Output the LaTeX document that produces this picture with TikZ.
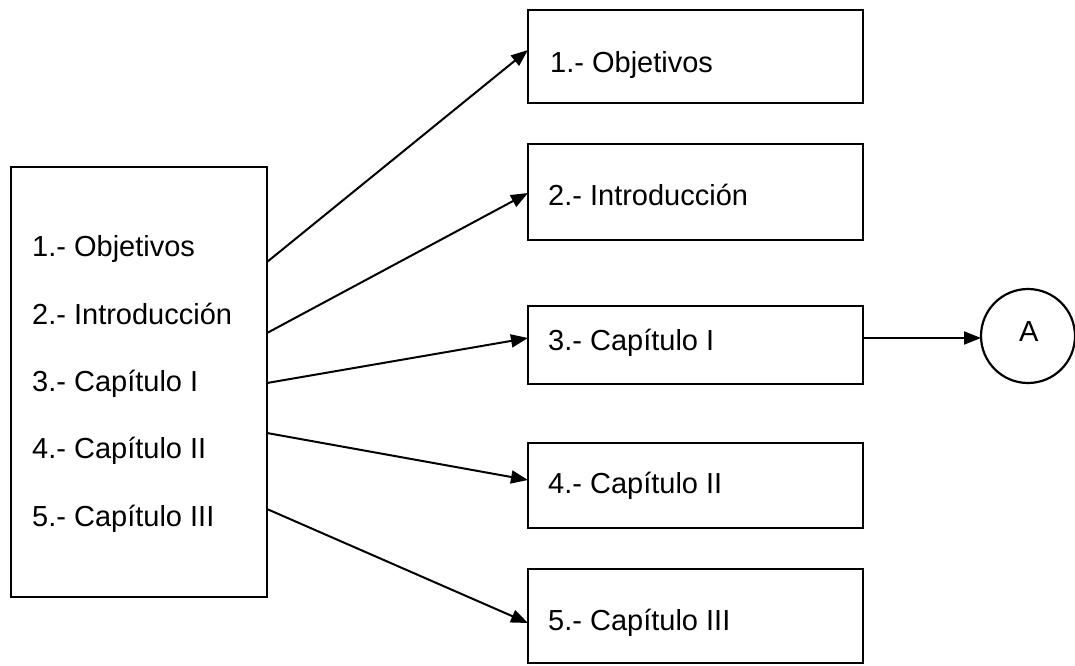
\documentclass[tikz,border=0pt]{standalone}
\usepackage{fontspec}
\setmainfont{Liberation Sans}
\usetikzlibrary{arrows.meta}
\begin{document}
\begin{tikzpicture}[x=1pt,y=-1pt,
  boxsty/.style={draw, line width=2.2pt, rectangle, inner sep=0pt, outer sep=0pt},
  txt/.style={anchor=base west, inner sep=0pt, font=\fontsize{29}{34}\selectfont},
  conn/.style={line width=2pt, -{Triangle[length=17pt,width=13pt]}}]
\useasboundingbox (0,0) rectangle (1075,665);
% left box
\node[boxsty, minimum width=256pt, minimum height=430pt] (L) at (139,382) {};
\node[txt] (l1) at (32,256) {1.- Objetivos};
\node[txt] (l2) at (32,324) {2.- Introducción};
\node[txt] (l3) at (32,391) {3.- Capítulo I};
\node[txt] (l4) at (32,458) {4.- Capítulo II};
\node[txt] (l5) at (32,526) {5.- Capítulo III};
% right boxes
\node[boxsty, minimum width=335pt, minimum height=93pt] (B1) at (695.5,56.5) {};
\node[boxsty, minimum width=335pt, minimum height=96pt] (B2) at (695.5,192) {};
\node[boxsty, minimum width=335pt, minimum height=78pt] (B3) at (695.5,345) {};
\node[boxsty, minimum width=335pt, minimum height=85pt] (B4) at (695.5,485.5) {};
\node[boxsty, minimum width=335pt, minimum height=94pt] (B5) at (695.5,616) {};
\node[txt] (r1) at (550,72) {1.- Objetivos};
\node[txt] (r2) at (548,205) {2.- Introducción};
\node[txt] (r3) at (548,350) {3.- Capítulo I};
\node[txt] (r4) at (548,493) {4.- Capítulo II};
\node[txt] (r5) at (548,630) {5.- Capítulo III};
% circle
\node[draw, circle, line width=2.2pt, minimum size=94pt, inner sep=0pt, outer sep=0pt] (C) at (1028,336) {};
\node[txt] (ca) at (1019,341) {A};
% connectors
\draw[conn] ([yshift=120pt]L.east) -- ([yshift=6.5pt]B1.west);
\draw[conn] ([yshift=49pt]L.east) -- ([yshift=-1pt]B2.west);
\draw[conn] ([yshift=-1pt]L.east) -- ([yshift=7pt]B3.west);
\draw[conn] ([yshift=-51pt]L.east) -- ([yshift=5.5pt]B4.west);
\draw[conn] ([yshift=-127pt]L.east) -- ([yshift=-7pt]B5.west);
\draw[conn] ([yshift=7pt]B3.east) -- ([yshift=-2pt]C.west);
\end{tikzpicture}
\end{document}
